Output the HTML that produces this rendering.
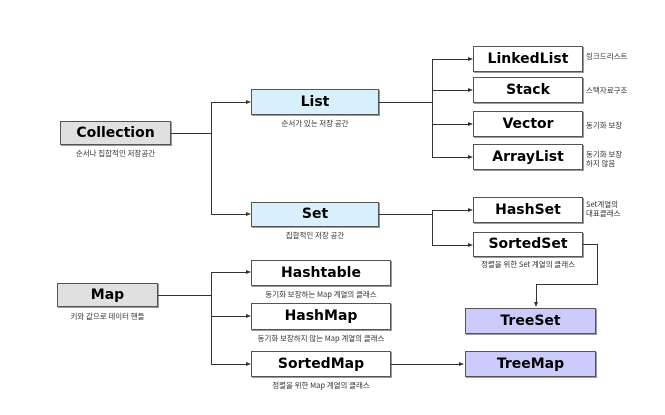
<!DOCTYPE html>
<html><head><meta charset="utf-8"><style>
body{margin:0;width:665px;height:415px;background:#fff;position:relative;overflow:hidden;font-family:"DejaVu Sans","Liberation Sans","Noto Sans CJK KR",sans-serif}
.b{position:absolute;box-sizing:border-box;border:1px solid #555;box-shadow:1px 1px 0 #999;background:#fff;font-weight:bold;font-size:14px;text-align:center;color:#000}
.g{background:#e0e0e0}.c{background:#d8f0fc}.p{background:#ccccfc}
.t{position:absolute;font-size:7.5px;color:#333;font-family:"Noto Sans CJK KR",sans-serif;white-space:nowrap;line-height:9px}
.l{position:absolute;background:#333}
.a{position:absolute;width:0;height:0;border-left:5px solid #333;border-top:2.5px solid transparent;border-bottom:2.5px solid transparent}
.d{position:absolute;width:0;height:0;border-top:5px solid #333;border-left:2.5px solid transparent;border-right:2.5px solid transparent}
</style></head><body>
<div class="b g" style="left:60px;top:121px;width:111px;height:24px;line-height:22px">Collection</div>
<div class="t" style="left:60px;top:149px;width:111px;text-align:center">순서나 집합적인 저장공간</div>
<div class="b c" style="left:251px;top:89px;width:128px;height:26px;line-height:24px">List</div>
<div class="t" style="left:251px;top:119px;width:128px;text-align:center">순서가 있는 저장 공간</div>
<div class="b c" style="left:251px;top:202px;width:128px;height:25px;line-height:23px">Set</div>
<div class="t" style="left:251px;top:231px;width:128px;text-align:center">집합적인 저장 공간</div>

<div class="l" style="left:171px;top:133px;width:40px;height:1px"></div>
<div class="l" style="left:211px;top:102px;width:1px;height:113px"></div>
<div class="l" style="left:211px;top:102px;width:35px;height:1px"></div><div class="a" style="left:246px;top:100px"></div>
<div class="l" style="left:211px;top:214px;width:35px;height:1px"></div><div class="a" style="left:246px;top:212px"></div>

<div class="b" style="left:473px;top:46px;width:110px;height:26px;line-height:24px">LinkedList</div>
<div class="b" style="left:473px;top:77px;width:110px;height:26px;line-height:24px">Stack</div>
<div class="b" style="left:473px;top:111px;width:110px;height:26px;line-height:24px">Vector</div>
<div class="b" style="left:473px;top:144px;width:110px;height:26px;line-height:24px">ArrayList</div>
<div class="t" style="left:586px;top:52px">링크드리스트</div>
<div class="t" style="left:586px;top:86px">스택자료구조</div>
<div class="t" style="left:586px;top:121px">동기화 보장</div>
<div class="t" style="left:586px;top:150px">동기화 보장<br>하지 않음</div>
<div class="l" style="left:379px;top:102px;width:53px;height:1px"></div>
<div class="l" style="left:432px;top:59px;width:1px;height:98px"></div>
<div class="l" style="left:432px;top:59px;width:36px;height:1px"></div><div class="a" style="left:468px;top:57px"></div>
<div class="l" style="left:432px;top:90px;width:36px;height:1px"></div><div class="a" style="left:468px;top:88px"></div>
<div class="l" style="left:432px;top:124px;width:36px;height:1px"></div><div class="a" style="left:468px;top:122px"></div>
<div class="l" style="left:432px;top:157px;width:36px;height:1px"></div><div class="a" style="left:468px;top:155px"></div>

<div class="b" style="left:473px;top:197px;width:110px;height:26px;line-height:24px">HashSet</div>
<div class="b" style="left:473px;top:232px;width:110px;height:25px;line-height:23px">SortedSet</div>
<div class="t" style="left:586px;top:200px">Set계열의<br>대표클래스</div>
<div class="t" style="left:473px;top:260px;width:110px;text-align:center">정렬을 위한 Set 계열의 클래스</div>
<div class="l" style="left:379px;top:214px;width:53px;height:1px"></div>
<div class="l" style="left:432px;top:210px;width:1px;height:35px"></div>
<div class="l" style="left:432px;top:210px;width:36px;height:1px"></div><div class="a" style="left:468px;top:208px"></div>
<div class="l" style="left:432px;top:245px;width:36px;height:1px"></div><div class="a" style="left:468px;top:243px"></div>

<div class="l" style="left:583px;top:244px;width:15px;height:1px"></div>
<div class="l" style="left:597px;top:244px;width:1px;height:41px"></div>
<div class="l" style="left:536px;top:284px;width:62px;height:1px"></div>
<div class="l" style="left:536px;top:284px;width:1px;height:19px"></div><div class="d" style="left:534px;top:302px"></div>
<div class="b p" style="left:465px;top:308px;width:131px;height:26px;line-height:24px">TreeSet</div>

<div class="b g" style="left:57px;top:283px;width:101px;height:24px;line-height:22px">Map</div>
<div class="t" style="left:57px;top:312px;width:101px;text-align:center">키와 값으로 데이터 핸들</div>
<div class="l" style="left:158px;top:295px;width:53px;height:1px"></div>
<div class="l" style="left:211px;top:272px;width:1px;height:93px"></div>
<div class="l" style="left:211px;top:272px;width:35px;height:1px"></div><div class="a" style="left:246px;top:270px"></div>
<div class="l" style="left:211px;top:316px;width:35px;height:1px"></div><div class="a" style="left:246px;top:314px"></div>
<div class="l" style="left:211px;top:364px;width:35px;height:1px"></div><div class="a" style="left:246px;top:362px"></div>

<div class="b" style="left:251px;top:260px;width:140px;height:26px;line-height:24px">Hashtable</div>
<div class="t" style="left:251px;top:290px;width:140px;text-align:center">동기화 보장하는 Map 계열의 클래스</div>
<div class="b" style="left:251px;top:303px;width:140px;height:27px;line-height:25px">HashMap</div>
<div class="t" style="left:251px;top:334px;width:140px;text-align:center">동기화 보장하지 않는 Map 계열의 클래스</div>
<div class="b" style="left:251px;top:351px;width:140px;height:26px;line-height:24px">SortedMap</div>
<div class="t" style="left:251px;top:381px;width:140px;text-align:center">정렬을 위한 Map 계열의 클래스</div>
<div class="l" style="left:391px;top:364px;width:68px;height:1px"></div><div class="a" style="left:459px;top:362px"></div>
<div class="b p" style="left:465px;top:351px;width:131px;height:26px;line-height:24px">TreeMap</div>
</body></html>
